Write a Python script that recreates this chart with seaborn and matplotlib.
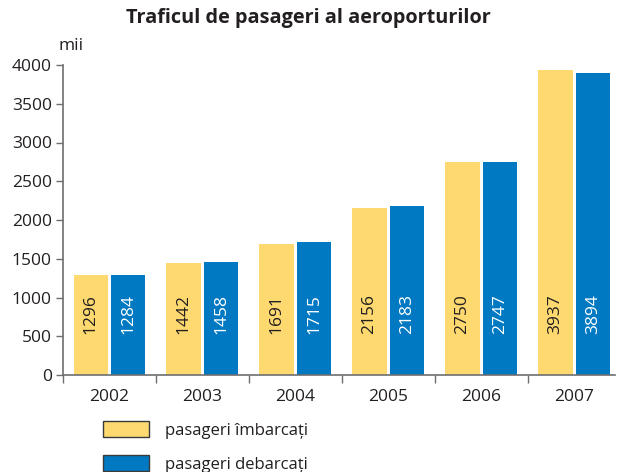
import matplotlib
matplotlib.use("Agg")
import matplotlib.pyplot as plt
import seaborn as sns
import pandas as pd
from matplotlib.ticker import FixedLocator, NullFormatter, FixedFormatter
from matplotlib.patches import Patch

years = ["2002", "2003", "2004", "2005", "2006", "2007"]
embarked = [1296, 1442, 1691, 2156, 2750, 3937]
disembarked = [1284, 1458, 1715, 2183, 2747, 3894]
series_names = ["pasageri îmbarcați", "pasageri debarcați"]
colors = ["#FDD970", "#0079C2"]
title = "Traficul de pasageri al aeroporturilor"
y_unit = "mii"
y_ticks = [0, 500, 1000, 1500, 2000, 2500, 3000, 3500, 4000]

df = pd.DataFrame({
    "an": years * 2,
    "valoare": embarked + disembarked,
    "tip": [series_names[0]] * len(years) + [series_names[1]] * len(years),
})

sns.set_style("white")
plt.rcParams["font.family"] = ["Open Sans", "DejaVu Sans"]
text_color = "#231F20"

W, H = 617, 472
fig = plt.figure(figsize=(W / 100, H / 100), dpi=100)
ax = fig.add_axes([63 / W, 1 - 375 / H, (615 - 63) / W, (375 - 65) / H])

sns.barplot(data=df, x="an", y="valoare", hue="tip", palette=colors,
            width=0.806, gap=0.08, ax=ax, legend=False, saturation=1,
            linewidth=0)

ax.set_ylim(0, 4000)
ax.set_xlim(-0.5, 5.44)
ax.set_xlabel("")
ax.set_ylabel("")

# value labels inside bars
for container, col in zip(ax.containers, ["#231F20", "white"]):
    for bar in container:
        h = bar.get_height()
        ax.text(bar.get_x() + bar.get_width() / 2, 530, f"{int(h)}",
                rotation=90, ha="center", va="bottom", fontsize=12.5,
                color=col)

# axes styling
for s in ["top", "right"]:
    ax.spines[s].set_visible(False)
for s in ["left", "bottom"]:
    ax.spines[s].set_color("#6d6e70")
    ax.spines[s].set_linewidth(1.2)

ax.yaxis.set_major_locator(FixedLocator(y_ticks))
ax.set_yticklabels([str(t) for t in y_ticks])
ax.tick_params(axis="y", which="major", direction="out", length=5, width=1,
               color="#6d6e70", labelsize=12.5, labelcolor=text_color, pad=3,
               left=True)

ax.xaxis.set_major_locator(FixedLocator([i - 0.5 for i in range(len(years))]))
ax.xaxis.set_major_formatter(NullFormatter())
ax.xaxis.set_minor_locator(FixedLocator(list(range(len(years)))))
ax.xaxis.set_minor_formatter(FixedFormatter(years))
ax.tick_params(axis="x", which="major", direction="out", length=6, width=1,
               color="#6d6e70", bottom=True)
ax.tick_params(axis="x", which="minor", length=0, labelsize=12.5,
               labelcolor=text_color, pad=10)

fig.text(0.5, 1 - 18 / H, title, ha="center", va="center",
         fontsize=14.3, fontweight="bold", color=text_color)
fig.text(71 / W, 1 - 46 / H, y_unit, ha="center", va="center",
         fontsize=12.5, color=text_color)

handles = [Patch(facecolor=c, edgecolor="#3a3a3a", linewidth=1) for c in colors]
fig.legend(handles, series_names, loc="upper left",
           bbox_to_anchor=(88 / W, 1 - 406 / H), frameon=False,
           fontsize=12, handlelength=2.75, handleheight=1.1,
           handletextpad=0.95, labelspacing=1.0, labelcolor=text_color)

fig.savefig("out.png", dpi=100)
